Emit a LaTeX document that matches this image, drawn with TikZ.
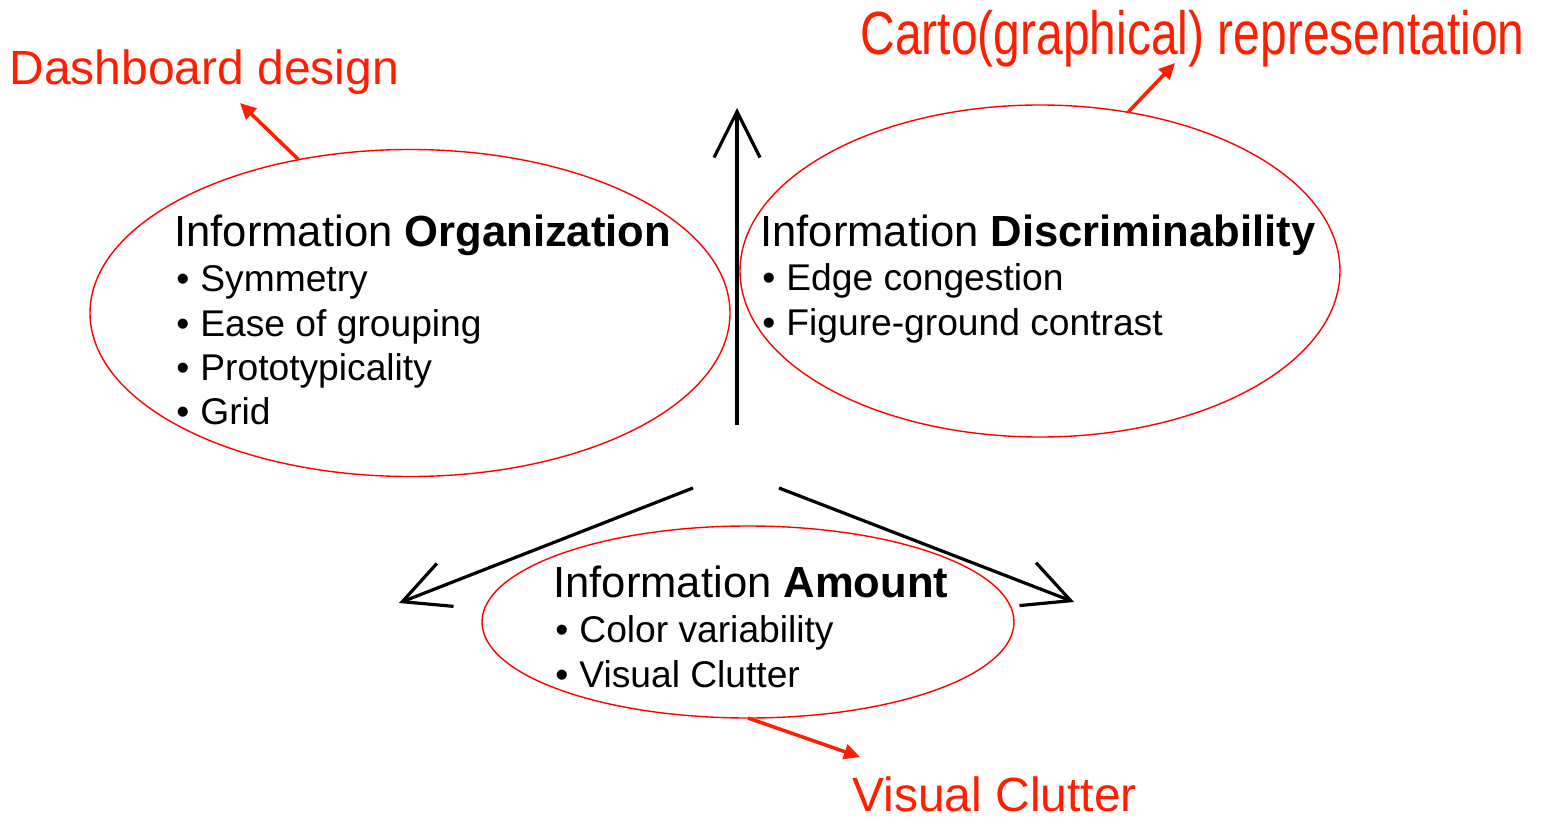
\documentclass[tikz,border=0pt]{standalone}
\usepackage{fontspec}
\setmainfont{Liberation Sans}
\usetikzlibrary{arrows.meta,shapes.geometric}
\definecolor{redlab}{RGB}{255,30,0}
\definecolor{ellred}{RGB}{255,0,0}
\newcommand\itembul{\makebox[12pt][l]{•}}
\begin{document}
\begin{tikzpicture}[x=0.5pt,y=-0.5pt,
  ell/.style={draw=ellred, line width=0.7pt, ellipse, inner sep=0pt, outer sep=0pt},
  titletext/.style={anchor=base west, inner sep=0pt, font=\fontsize{21.8}{24}\selectfont},
  itemtext/.style={anchor=base west, inner sep=0pt, font=\fontsize{18.6}{21}\selectfont},
  redlabel/.style={anchor=base west, inner sep=0pt, text=redlab, font=\fontsize{24}{28}\selectfont},
  axisarrow/.style={line width=1.6pt, -{Straight Barb[length=23pt,width=23pt]}},
  pointer/.style={draw=redlab, line width=1.75pt, -{Triangle[length=8pt,width=7.5pt]}}
]
\useasboundingbox[fill=white] (0,0) rectangle (1546,818);

% ellipses
\node[ell, minimum width=320pt, minimum height=163.5pt] (org) at (410,313) {};
\node[ell, minimum width=300pt, minimum height=166pt] (dis) at (1040,271) {};
\node[ell, minimum width=266pt, minimum height=96pt] (amt) at (748,622) {};

% left block
\node[titletext] (orgT) at (174,247) {Information \textbf{Organization}};
\node[itemtext] (org1) at (176,292) {\itembul Symmetry};
\node[itemtext] (org2) at (176,336) {\itembul Ease of grouping};
\node[itemtext] (org3) at (176,380) {\itembul Prototypicality};
\node[itemtext] (org4) at (176,424) {\itembul Grid};

% right block
\node[titletext] (disT) at (760,247) {Information \textbf{Discriminability}};
\node[itemtext] (dis1) at (762,291) {\itembul Edge congestion};
\node[itemtext] (dis2) at (762,335) {\itembul Figure-ground contrast};

% bottom block
\node[titletext] (amtT) at (553,597) {Information \textbf{Amount}};
\node[itemtext] (amt1) at (555,642) {\itembul Color variability};
\node[itemtext] (amt2) at (555,687) {\itembul Visual Clutter};

% black axis arrows
\coordinate (vS) at (737,425);
\coordinate (vE) at (737,108);
\coordinate (lS) at (693,488);
\coordinate (lE) at (399,603);
\coordinate (rS) at (779,488);
\coordinate (rE) at (1074,602);
\draw[axisarrow] (vS) -- (vE);
\draw[axisarrow] (lS) -- (lE);
\draw[axisarrow] (rS) -- (rE);

% red labels
\node[redlabel] (dash) at (9,85) {Dashboard design};
\node[redlabel] (carto) at (860,55) {\scalebox{1}[1.27]{Carto(graphical) representation}};
\node[redlabel] (clut) at (852,811) {Visual Clutter};

% red pointers
\coordinate (dashP) at (240,103);
\coordinate (cartoP) at (1175,63);
\coordinate (clutP) at (860,757);
\draw[pointer] (org.126.2) -- (dashP);
\draw[pointer] (dis.61.9) -- (cartoP);
\draw[pointer] (amt.south) -- (clutP);
\end{tikzpicture}
\end{document}
